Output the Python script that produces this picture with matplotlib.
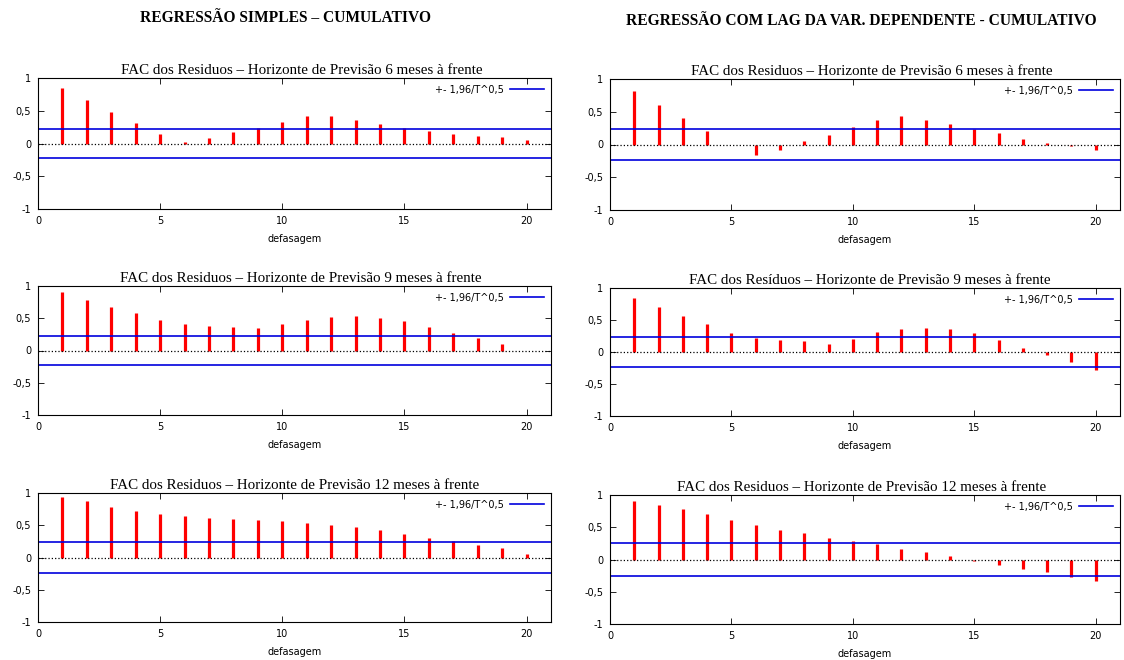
import matplotlib.pyplot as plt
import numpy as np

lags = np.arange(1, 21)

# FAC dos residuos, lado esquerdo (regressao simples)
fac_simples_6 = [0.85, 0.67, 0.48, 0.31, 0.15, 0.03, 0.08, 0.17, 0.24, 0.33,
                 0.42, 0.42, 0.36, 0.30, 0.24, 0.19, 0.15, 0.11, 0.10, 0.05]
fac_simples_9 = [0.90, 0.79, 0.68, 0.58, 0.48, 0.41, 0.38, 0.37, 0.35, 0.41,
                 0.48, 0.52, 0.53, 0.51, 0.45, 0.37, 0.27, 0.20, 0.10, -0.01]
fac_simples_12 = [0.94, 0.87, 0.79, 0.72, 0.67, 0.64, 0.62, 0.60, 0.58, 0.56,
                  0.54, 0.51, 0.47, 0.42, 0.37, 0.31, 0.25, 0.19, 0.14, 0.06]

# FAC dos residuos, lado direito (com lag da var. dependente)
fac_lag_6 = [0.82, 0.61, 0.40, 0.21, -0.01, -0.16, -0.09, 0.05, 0.15, 0.26,
             0.38, 0.43, 0.37, 0.31, 0.24, 0.17, 0.09, 0.02, -0.02, -0.08]
fac_lag_9 = [0.85, 0.71, 0.57, 0.44, 0.30, 0.22, 0.18, 0.17, 0.13, 0.21,
             0.31, 0.36, 0.38, 0.36, 0.29, 0.19, 0.07, -0.05, -0.15, -0.28]
fac_lag_12 = [0.91, 0.85, 0.78, 0.70, 0.62, 0.54, 0.46, 0.41, 0.33, 0.28,
              0.24, 0.16, 0.12, 0.05, -0.02, -0.09, -0.15, -0.20, -0.27, -0.34]

# bandas +- 1,96/T^0,5
banda_simples = [0.22, 0.22, 0.24]
banda_lag = [0.24, 0.24, 0.26]

titulos_esq = ['FAC dos Residuos – Horizonte de Previsão 6 meses à frente',
               'FAC dos Residuos – Horizonte de Previsão 9 meses à frente',
               'FAC dos Residuos – Horizonte de Previsão 12 meses à frente']
titulos_dir = ['FAC dos Residuos – Horizonte de Previsão 6 meses à frente',
               'FAC dos Resíduos – Horizonte de Previsão 9 meses à frente',
               'FAC dos Residuos – Horizonte de Previsão 12 meses à frente']

yticks = [-1, -0.5, 0, 0.5, 1]
ytick_labels = ['-1', '-0,5', '0', '0,5', '1']
xticks = [0, 5, 10, 15, 20]

fig = plt.figure(figsize=(11.24, 6.6), dpi=100)
W, H = 1124, 660


def painel(rect_px, valores, banda, titulo, centro_titulo):
    x0, y0, x1, y1 = rect_px
    ax = fig.add_axes([x0 / W, 1 - y1 / H, (x1 - x0) / W, (y1 - y0) / H])
    ax.vlines(lags, 0, valores, color='red', linewidth=2.3)
    ax.axhline(0, color='black', linestyle=':', linewidth=0.9)
    ax.axhline(banda, color='#0000dd', linewidth=1.2, label='+- 1,96/T^0,5')
    ax.axhline(-banda, color='#0000dd', linewidth=1.2)
    ax.set_xlim(0, 21)
    ax.set_ylim(-1, 1)
    ax.set_xticks(xticks)
    ax.set_yticks(yticks)
    ax.set_yticklabels(ytick_labels)
    ax.tick_params(direction='in', top=True, right=True, labelsize=7,
                   length=4, width=0.6, pad=5)
    for s in ax.spines.values():
        s.set_linewidth(0.8)
    ax.set_xlabel('defasagem', fontsize=7, labelpad=6)
    ax.set_title(titulo, fontsize=10.8, family='Liberation Serif', pad=3,
                 x=(centro_titulo - x0) / (x1 - x0))
    ax.legend(loc='upper right', frameon=False, fontsize=7, markerfirst=False,
              handlelength=3.5, borderaxespad=0.3, handletextpad=0.6)
    return ax


esq_y = [(78, 209), (286, 415), (493, 622)]
dir_y = [(79, 210), (288, 416), (495, 624)]
esq_centro = [302, 301, 295]
dir_centro = [872, 870, 862]
esq_vals = [fac_simples_6, fac_simples_9, fac_simples_12]
dir_vals = [fac_lag_6, fac_lag_9, fac_lag_12]

for i in range(3):
    painel((38, esq_y[i][0], 551, esq_y[i][1]), esq_vals[i], banda_simples[i],
           titulos_esq[i], esq_centro[i])
    painel((610, dir_y[i][0], 1120, dir_y[i][1]), dir_vals[i], banda_lag[i],
           titulos_dir[i], dir_centro[i])

fig.text(285 / W, 1 - 18 / H, 'REGRESSÃO SIMPLES – CUMULATIVO', ha='center', va='center',
         fontsize=11.2, fontweight='bold', family='Liberation Serif')
fig.text(861 / W, 1 - 21 / H, 'REGRESSÃO COM LAG DA VAR. DEPENDENTE - CUMULATIVO',
         ha='center', va='center', fontsize=11.2, fontweight='bold', family='Liberation Serif')

fig.savefig('out.png', dpi=100)
